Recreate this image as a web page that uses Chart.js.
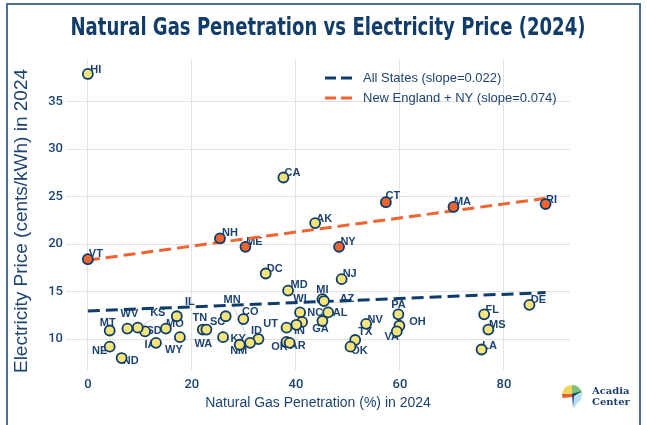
<!DOCTYPE html>
<html><head><meta charset="utf-8">
<script src="https://cdn.jsdelivr.net/npm/chart.js@4.4.1/dist/chart.umd.min.js"></script>
<style>
html,body{margin:0;padding:0;background:#fff;}
#wrap{position:relative;width:647px;height:425px;overflow:hidden;background:#fff;}
#frame{position:absolute;left:6px;top:3px;width:635px;height:440px;border:2px solid #4d6d93;box-sizing:border-box;pointer-events:none;}
canvas{position:absolute;left:0;top:0;}
#logo{position:absolute;left:560px;top:383px;}
#logotext{position:absolute;left:592px;top:385px;font:bold 10px "DejaVu Serif",serif;line-height:11px;color:#1e3f6c;}
</style></head>
<body><div id="wrap">
<canvas id="c" width="647" height="425"></canvas>
<div id="frame"></div>
<svg id="logo" width="26" height="28" viewBox="0 0 26 28">
  <path d="M12,12 L2,11 A10,10 0 0 1 12,2 Z" fill="#f1d65a"/>
  <path d="M12,12 L12,2 A10,10 0 0 1 22,10 Z" fill="#7cc27a"/>
  <path d="M2,11 L13,11 L12,14 L2.5,15 Z" fill="#e85a32"/>
  <path d="M13,12 L22,10 A10,10 0 0 1 16,21 L14,27 Z" fill="#b7def3"/>
  <path d="M12,11 L22,8 L14,13 L13,25 Z" fill="#173f6b"/>
</svg>
<div id="logotext">Acadia<br>Center</div>
</div>
<script>
// ---- data ----
const states = ['HI','VT','CA','NH','ME','AK','NY','DC','CT','MA','RI','NJ','MD','MI','AZ','WI','NC','AL','GA','IN','UT','OR','AR','ID','NM','MN','KY','CO','SC','TN','WA','IL','MO','WY','IA','SD','KS','WV','ND','NE','MT','TX','OK','NV','PA','OH','VA','DE','FL','MS','LA'];
const gasShare = [0,0,37.6,25.4,30.3,43.7,48.3,34.2,57.3,70.3,88.0,48.8,38.5,45.1,45.4,40.8,41.2,46.2,45.1,40.1,38.2,38.2,38.8,32.8,29.2,31.2,26.0,29.9,26.5,22.1,22.8,17.1,15.0,17.7,13.1,11.0,9.6,7.6,6.5,4.2,4.2,51.4,50.5,53.5,59.7,59.9,59.4,84.9,76.2,77.0,75.7];
const price = [37.9,18.4,27.0,20.6,19.7,22.2,19.7,16.9,24.4,23.9,24.2,16.3,15.1,14.2,14.0,12.8,11.8,12.8,11.9,11.5,11.2,9.7,9.6,10.0,9.4,9.6,10.2,12.1,12.4,11.0,11.0,12.4,11.1,10.2,9.6,10.8,11.2,11.1,8.0,9.2,10.9,9.9,9.2,11.6,12.6,11.4,10.8,13.6,12.6,11.0,8.9];
const neGroup = ['VT','NH','ME','CT','MA','RI','NY'];
const trendNames = ['All States (slope=0.022)','New England + NY (slope=0.074)'];
const trendSlope = [0.022, 0.074];
const trendIntercept = [12.95, 18.3];
const trendXRange = [0, 88];
const xTicks = [0,20,40,60,80];
const yTicks = [10,15,20,25,30,35];

// ---- layout of labels (pixel offsets of label centre from its point) ----
const labelOffsets = {HI:[8,-4],VT:[8,-5],CA:[9,-5],NH:[10,-5],ME:[9,-5],AK:[9,-4],NY:[9,-5],DC:[9,-5],CT:[7,-6],MA:[9,-5],RI:[6,-4],NJ:[8,-5],MD:[11,-6],MI:[0,-9],AZ:[23,-2],WI:[0,-13],NC:[13,-9],AL:[12,1],GA:[-2,8],IN:[3,6],UT:[-16,-4],OR:[-7,5],AR:[8,3],ID:[-2,-8],NM:[-1,6],MN:[-18,-43],KY:[15,2],CO:[7,-7],SC:[-8,6],TN:[-3,-12],WA:[-3,14],IL:[13,-14],MO:[9,-5],WY:[-6,13],IA:[-6,2],SD:[9,0],KS:[20,-15],WV:[2,-15],ND:[9,3],NE:[-10,4],MT:[-2,-8],TX:[10,-8],OK:[9,4],NV:[9,-4],PA:[0,-9],OH:[18,-4],VA:[-5,6],DE:[9,-5],FL:[8,-4],MS:[9,-5],LA:[8,-4]};

const NAVY='#0e3c6b', TEXT='#1d4373', ORANGE='#f0642f', YELLOW='#f5e37c';
const trendColors=[NAVY, ORANGE];

const otherPts=[], nePts=[];
states.forEach((s,i)=>{ (neGroup.includes(s)?nePts:otherPts).push({x:gasShare[i], y:price[i]}); });
const trendSets = trendNames.map((n,k)=>({
  type:'line', label:n,
  data: trendXRange.map(x=>({x:x, y:trendIntercept[k]+trendSlope[k]*x})),
  borderColor:trendColors[k], borderWidth:3, borderDash:[12,6], pointRadius:0, fill:false, order:2
}));

const labelPlugin={
  id:'stateLabels',
  beforeDatasetsDraw(chart){
    const ctx=chart.ctx, xs=chart.scales.x, ys=chart.scales.y;
    ctx.save();
    ctx.font='bold 11px "Liberation Sans", Arial, sans-serif';
    ctx.textAlign='center'; ctx.textBaseline='middle';
    states.forEach((s,i)=>{
      const px=xs.getPixelForValue(gasShare[i]), py=ys.getPixelForValue(price[i]);
      const o=labelOffsets[s]||[8,-5];
      const lx=px+o[0], ly=py+o[1];
      if(Math.hypot(o[0],o[1])>20){
        ctx.strokeStyle='rgba(160,160,160,0.55)'; ctx.lineWidth=0.8;
        ctx.beginPath(); ctx.moveTo(px,py); ctx.lineTo(lx,ly+4); ctx.stroke();
      }
      ctx.fillStyle=TEXT;
      ctx.fillText(s,lx,ly);
    });
    ctx.restore();
  },
  afterDraw(chart){
    const ctx=chart.ctx, ca=chart.chartArea;
    ctx.save();
    // title
    ctx.fillStyle='#123d6a';
    ctx.font='bold 25px "Liberation Sans Narrow","DejaVu Sans Condensed","Liberation Sans",sans-serif';
    ctx.textAlign='center'; ctx.textBaseline='middle';
    const t='Natural Gas Penetration vs Electricity Price (2024)';
    const w=ctx.measureText(t).width, target=515;
    ctx.translate(328,28); ctx.scale(target/w,1); ctx.fillText(t,0,0);
    ctx.setTransform(1,0,0,1,0,0);
    // axis titles
    ctx.fillStyle=TEXT;
    ctx.font='14px "Liberation Sans", Arial, sans-serif';
    ctx.fillText('Natural Gas Penetration (%) in 2024',(ca.left+ca.right)/2,403);
    ctx.save();
    ctx.translate(22,(ca.top+ca.bottom)/2+6); ctx.rotate(-Math.PI/2);
    ctx.font='19px "Liberation Sans", Arial, sans-serif';
    ctx.fillText('Electricity Price (cents/kWh) in 2024',0,0);
    ctx.restore();
    // legend
    ctx.font='13px "Liberation Sans", Arial, sans-serif';
    ctx.textAlign='left';
    trendNames.forEach((n,k)=>{
      const y=78+k*20;
      ctx.strokeStyle=trendColors[k]; ctx.lineWidth=3; ctx.setLineDash([11,5]);
      ctx.beginPath(); ctx.moveTo(325,y); ctx.lineTo(352,y); ctx.stroke();
      ctx.setLineDash([]);
      ctx.fillStyle=TEXT; ctx.fillText(n,363,y);
    });
    ctx.restore();
  }
};

new Chart(document.getElementById('c'),{
  type:'scatter',
  data:{datasets:[
    {label:'Other states', data:otherPts, backgroundColor:YELLOW, borderColor:NAVY, borderWidth:1.8, pointRadius:5, order:1},
    {label:'New England + NY', data:nePts, backgroundColor:ORANGE, borderColor:NAVY, borderWidth:1.8, pointRadius:5, order:0},
    ...trendSets
  ]},
  options:{
    responsive:false, devicePixelRatio:1, animation:false, events:[],
    layout:{padding:{left:0,top:60,right:77,bottom:0}},
    plugins:{legend:{display:false}, tooltip:{enabled:false}, title:{display:false}},
    scales:{
      x:{type:'linear', min:-4.2, max:92.7,
        afterBuildTicks(s){ s.ticks=xTicks.map(v=>({value:v})); },
        afterFit(s){ s.height=55; },
        grid:{color:'#e3e3e3', lineWidth:1, drawTicks:false},
        border:{display:false},
        ticks:{padding:7, color:TEXT, font:{family:'Roboto, "Liberation Sans", sans-serif', size:13, weight:'500'}}
      },
      y:{type:'linear', min:6.74, max:39.37,
        afterBuildTicks(s){ s.ticks=yTicks.map(v=>({value:v})); },
        afterFit(s){ s.width=66; },
        grid:{color:'#e3e3e3', lineWidth:1, drawTicks:false},
        border:{display:false},
        ticks:{padding:3, color:TEXT, font:{family:'Roboto, "Liberation Sans", sans-serif', size:13, weight:'500'}}
      }
    }
  },
  plugins:[labelPlugin]
});
</script>
</body></html>
